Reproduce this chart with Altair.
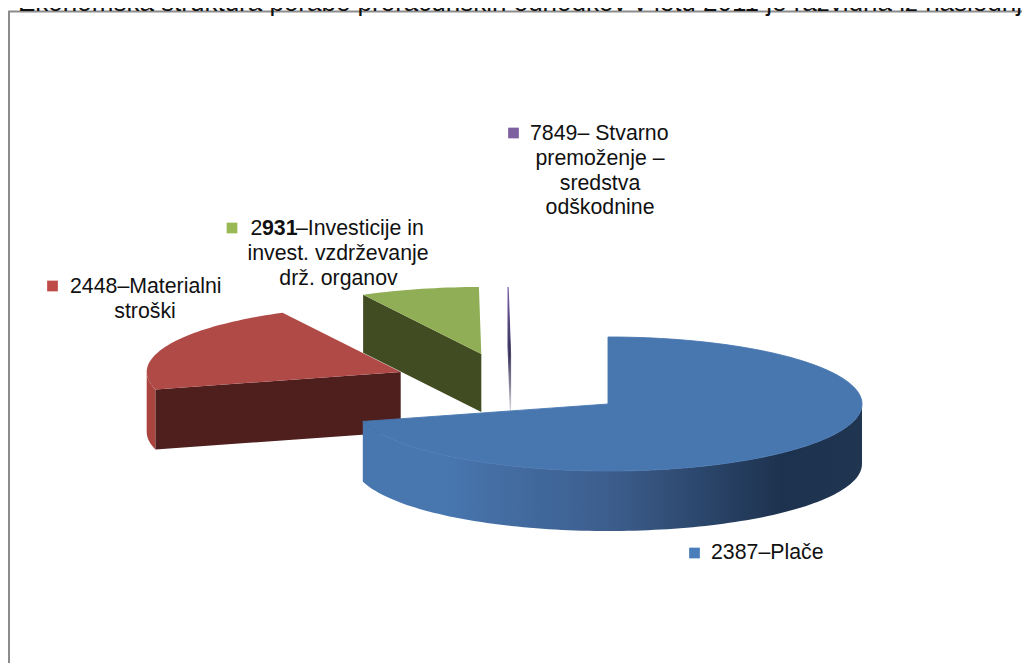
import math
import altair as alt
import pandas as pd

# Slice shares (percent), in drawing order clockwise from 12 o'clock
SLICE_NAMES = ["2387–Plače", "2448–Materialni stroški", "2931–Investicije", "7849–Stvarno premoženje"]
SLICE_SHARES = [70.8, 21.5, 7.55, 0.15]

TITLE = "Ekonomska struktura porabe proračunskih odhodkov v letu 2011 je razvidna iz naslednjega"

LEGEND_NAMES = ["Plače", "Materialni", "Investicije", "Stvarno"]
LEGEND_X = [694.5, 52.5, 232, 513.5]
LEGEND_Y = [553, 286, 228, 133]
LEGEND_COLORS = ["#4a7ebb", "#be4b48", "#98b954", "#7d60a0"]

CENTER_TEXT = ["stroški", "invest. vzdrževanje", "drž. organov", "premoženje –", "sredstva", "odškodnine"]
CENTER_X = [145, 338, 338.5, 600, 600, 600]
CENTER_Y = [312, 254, 279, 159, 184, 208]

LEFT_TEXT = ["2387–Plače", "2448–Materialni", "2", "–Investicije in", "7849– Stvarno"]
LEFT_X = [711, 70, 250.5, 296, 530]
LEFT_Y = [553, 287, 229, 229, 134]

BOLD_TEXT = ["931"]
BOLD_X = [262]
BOLD_Y = [229]

# Projection of the tilted pie (page pixels)
RX, RY, DEPTH = 254, 67, 60
CENTERS = [(608, 404), (400.7, 372), (481.3, 354), (510.5, 354)]


def point(c, deg, drop=0):
    a = math.radians(deg)
    return (c[0] + RX * math.sin(a), c[1] - RY * math.cos(a) + drop)


def arc(c, a0, a1, drop=0):
    n = max(2, int(abs(a1 - a0) / 1.5) + 2)
    return [point(c, a0 + (a1 - a0) * i / (n - 1), drop) for i in range(n)]


total = sum(SLICE_SHARES)
edges = [0]
for s in SLICE_SHARES:
    edges.append(edges[-1] + 360 * s / total)

X = alt.X("x:Q", scale=alt.Scale(domain=[8, 1022], nice=False, zero=False), axis=None)
Y = alt.Y("y:Q", scale=alt.Scale(domain=[663, 8], nice=False, zero=False), axis=None)


def poly(points, fill, width=0, stroke=None):
    df = pd.DataFrame({"x": [p[0] for p in points], "y": [p[1] for p in points], "i": range(len(points))})
    kw = dict(filled=True, fill=fill, interpolate="linear-closed", opacity=1)
    if stroke:
        kw.update(stroke=stroke, strokeWidth=width)
    else:
        kw.update(strokeWidth=0)
    return alt.Chart(df).mark_line(**kw).encode(x=X, y=Y, order=alt.Order("i:Q"))


def hgrad(stops):
    return alt.LinearGradient(
        gradient="linear", x1=0, x2=1, y1=0, y2=0,
        stops=[alt.GradientStop(offset=o, color=c) for o, c in stops],
    )


def vgrad(stops):
    return alt.LinearGradient(
        gradient="linear", x1=0, x2=0, y1=0, y2=1,
        stops=[alt.GradientStop(offset=o, color=c) for o, c in stops],
    )


layers = []

# Frame
frame = pd.DataFrame({"x": [9, 8], "x2": [9, 1022], "y": [11, 11.5], "y2": [663, 11.5]})
layers.append(
    alt.Chart(frame).mark_rule(color="#8c8c8c", strokeWidth=2).encode(x=X, y=Y, x2="x2:Q", y2="y2:Q")
)

# Red slice
c, a0, a1 = CENTERS[1], edges[1], edges[2]
layers.append(poly(arc(c, a0, 270) + arc(c, 270, a0, DEPTH), "#a9443f"))
layers.append(poly([c, point(c, a0), point(c, a0, DEPTH), (c[0], c[1] + DEPTH)], "#4f1f1e"))
layers.append(poly([c] + arc(c, a0, a1), "#b04a47"))

# Green slice
c, a0, a1 = CENTERS[2], edges[2], edges[3]
layers.append(poly([c, point(c, a0), point(c, a0, DEPTH - 2), (c[0], c[1] + DEPTH - 2)], "#414c22"))
layers.append(poly([c] + arc(c, a0, a1), "#8fae55"))

# Purple sliver
c, a0, a1 = CENTERS[3], edges[3], edges[4]
layers.append(
    poly(
        [c, point(c, a0), point(c, a0, DEPTH), (c[0], c[1] + DEPTH)],
        vgrad([(0, "#4a3f72"), (0.55, "#2f2d52"), (0.8, "#8c8a9c"), (1, "#dcdce2")]),
        1.2,
        vgrad([(0, "#7a62a8"), (0.45, "#3e3766"), (0.75, "#7f7d92"), (1, "#e4e4ea")]),
    )
)

# Blue slice
c, a0, a1 = CENTERS[0], edges[0], edges[1]
layers.append(
    poly(
        arc(c, 90, a1) + arc(c, a1, 90, DEPTH),
        hgrad([(0, "#4877b0"), (0.15, "#4877b0"), (0.5, "#3c5d8c"), (0.84, "#1d324e"), (1, "#1f3550")]),
    )
)
layers.append(poly([c] + arc(c, a0, a1), "#4877b0", 0.9, "#4877b0"))


# Legend squares
legend = pd.DataFrame({"x": LEGEND_X, "y": LEGEND_Y, "name": LEGEND_NAMES})
layers.append(
    alt.Chart(legend)
    .mark_square(size=115, opacity=1)
    .encode(
        x=X,
        y=Y,
        color=alt.Color("name:N", scale=alt.Scale(domain=LEGEND_NAMES, range=LEGEND_COLORS), legend=None),
    )
)


def text_layer(texts, xs, ys, align, weight="normal", size=21.3):
    df = pd.DataFrame({"x": xs, "y": ys, "t": texts})
    return (
        alt.Chart(df)
        .mark_text(align=align, baseline="middle", font="Liberation Sans", fontSize=size,
                   fontWeight=weight, color="#111111")
        .encode(x=X, y=Y, text="t:N")
    )


layers.append(text_layer(CENTER_TEXT, CENTER_X, CENTER_Y, "center"))
layers.append(text_layer(LEFT_TEXT, LEFT_X, LEFT_Y, "left"))
layers.append(text_layer(BOLD_TEXT, BOLD_X, BOLD_Y, "left", "bold"))

# Title, cropped by the top of the page as in the reference
title_df = pd.DataFrame({"x": [18], "y": [10.5], "t": [TITLE]})
layers.append(
    alt.Chart(title_df)
    .mark_text(align="left", baseline="alphabetic", font="Liberation Sans", fontSize=26, color="#111111")
    .encode(x=X, y=Y, text="t:N")
)

chart = (
    alt.layer(*layers)
    .properties(width=1014, height=655, padding=0, autosize=alt.AutoSizeParams(type="none"), background="#ffffff")
    .configure_view(stroke=None)
)

chart.save("out.html", embed_options={"renderer": "svg", "actions": False})
